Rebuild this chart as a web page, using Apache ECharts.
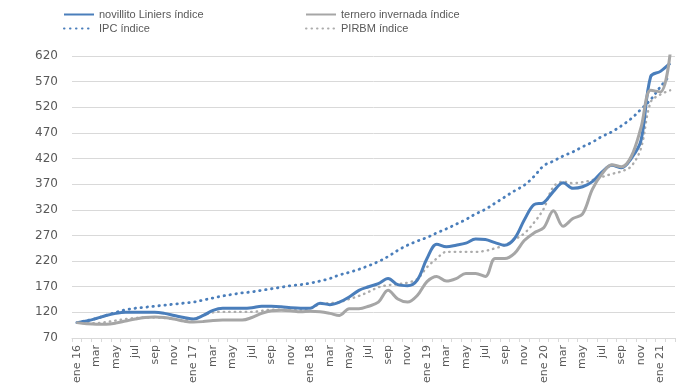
<!DOCTYPE html>
<html>
<head>
<meta charset="utf-8">
<script src="https://cdn.jsdelivr.net/npm/echarts@6/dist/echarts.min.js"></script>
<style>html,body{margin:0;padding:0;background:#fff}#c{width:697px;height:392px}</style>
</head>
<body>
<div id="c"></div>
<script>
var categories = ['ene 16','feb','mar','abr','may','jun','jul','ago','sep','oct','nov','dic',
  'ene 17','feb','mar','abr','may','jun','jul','ago','sep','oct','nov','dic',
  'ene 18','feb','mar','abr','may','jun','jul','ago','sep','oct','nov','dic',
  'ene 19','feb','mar','abr','may','jun','jul','ago','sep','oct','nov','dic',
  'ene 20','feb','mar','abr','may','jun','jul','ago','sep','oct','nov','dic',
  'ene 21','feb'];
var yTicks = [70,120,170,220,270,320,370,420,470,520,570,620];
var novillito = [100,103,108,114,118,120,120,120,120,118,114,110,
  107,114,124,128,128,128,129,132,132,131,129,128,
  128,138,135,140,150,163,170,176,186,174,172,183,
  225,253,248,251,255,263,262,256,251,264,300,330,
  334,356,373,362,365,375,394,407,402,420,455,580,
  590,606];
var ternero = [100,98,97,97,99,103,107,110,111,110,107,103,
  101,102,104,105,105,105,110,118,123,124,123,121,
  122,121,118,114,127,127,132,140,163,146,140,153,
  180,190,181,186,196,196,190,225,225,235,260,275,
  285,318,288,303,312,360,390,408,404,424,480,553,
  550,625];
var ipc = [100,104,108,114,120,125,128,130,132,134,136,138,
  140,144,148,152,155,158,160,163,166,169,172,174,
  177,181,186,193,198,204,211,219,229,241,251,259,
  266,275,283,292,301,312,321,333,345,357,368,385,
  406,415,425,433,443,452,463,472,484,498,516,535,
  560,583];
var pirbm = [100,99,99,101,104,107,109,110,110,109,107,105,
  107,114,120,121,121,121,121,123,125,125,125,124,
  128,136,138,140,146,152,160,169,173,175,178,185,
  208,225,238,238,238,238,240,245,251,262,274,295,
  322,365,375,372,374,378,384,390,395,405,440,530,
  545,553];
var names = ['novillito Liniers índice','ternero invernada índice','IPC índice','PIRBM índice'];

var BLUE = '#4a7ebb', GRAY = '#a6a6a6', GRAY2 = '#acacac', TXT = '#595959';
var chart = echarts.init(document.getElementById('c'), null, {renderer:'canvas'});
function solid(name, data, color){
  return {name:name, type:'line', data:data, smooth:0.35, showSymbol:false, symbol:'none',
    lineStyle:{color:color, width:3}, itemStyle:{color:color}, z:3};
}
function dotted(name, data, color, w, gap){
  return {name:name, type:'line', data:data, smooth:0.35, showSymbol:false, symbol:'none',
    lineStyle:{color:color, width:w, type:[0.5, gap], cap:'round'}, itemStyle:{color:color}, z:2};
}
var legendBase = {top:4, orient:'vertical', itemGap:3, itemWidth:30, itemHeight:11,
  itemStyle:{opacity:0},
  textStyle:{fontSize:11, color:TXT, fontFamily:'Liberation Sans'}};
chart.setOption({
  animation:false,
  textStyle:{fontFamily:'Liberation Sans', color:TXT},
  legend:[
    Object.assign({left:58, data:[names[0], names[2]]}, legendBase),
    Object.assign({left:300, data:[names[1], names[3]]}, legendBase)
  ],
  grid:{left:72, right:22, top:56, bottom:54, containLabel:false},
  xAxis:{type:'category', data:categories, boundaryGap:true,
    axisLine:{show:true, lineStyle:{color:'#d9d9d9'}},
    axisTick:{show:true, interval:0, length:4, lineStyle:{color:'#d9d9d9'}},
    axisLabel:{interval:1, rotate:90, fontSize:11, color:TXT, margin:7, fontFamily:'DejaVu Sans'},
    splitLine:{show:false}},
  yAxis:{type:'value', min:yTicks[0], max:yTicks[yTicks.length-1], interval:50,
    axisLine:{show:false}, axisTick:{show:false},
    axisLabel:{fontSize:12, color:TXT, margin:14, fontFamily:'DejaVu Sans'},
    splitLine:{lineStyle:{color:'#d9d9d9', width:1}}},
  series:[
    solid(names[0], novillito, BLUE),
    solid(names[1], ternero, GRAY),
    dotted(names[2], ipc, BLUE, 2.8, 5.5),
    dotted(names[3], pirbm, GRAY2, 2.4, 5)
  ]
});
</script>
</body>
</html>
